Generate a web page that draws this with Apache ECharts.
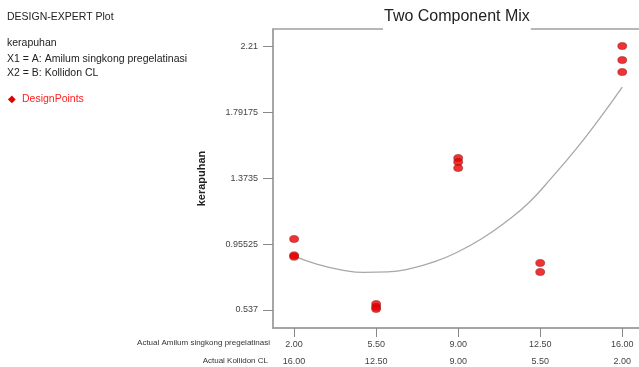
<!DOCTYPE html>
<html>
<head>
<meta charset="utf-8">
<script src="https://cdn.jsdelivr.net/npm/echarts@6/dist/echarts.min.js"></script>
<style>
  html, body { margin: 0; padding: 0; background: #fff; }
  #chart { width: 639px; height: 367px; }
</style>
</head>
<body>
<div id="chart"></div>
<script>
// 坐标刻度
const amilumTicks = [2, 5.5, 9, 12.5, 16]
const kollidonTicks = [16, 12.5, 9, 5.5, 2]
const yTicks = [0.537, 0.95525, 1.3735, 1.79175, 2.21]

// 设计点 (Amilum, kerapuhan)
const pointX = [2, 2, 2, 5.5, 5.5, 5.5, 9, 9, 9, 12.5, 12.5, 16, 16, 16]
const pointY = [0.987, 0.884, 0.874, 0.575, 0.556, 0.544, 1.500, 1.475, 1.437, 0.835, 0.778, 2.21, 2.121, 2.045]

// 拟合曲线
const curveX = [2.0, 3.0, 4.0, 5.0, 6.0, 7.0, 8.0, 9.0, 10.0, 11.0, 12.0, 13.0, 14.0, 15.0, 16.0]
const curveY = [0.879, 0.827, 0.792, 0.776, 0.779, 0.801, 0.843, 0.906, 0.989, 1.092, 1.215, 1.378, 1.552, 1.744, 1.95]

const font = 'Liberation Sans, Arial, sans-serif'

const chart = echarts.init(document.getElementById('chart'))
const option = {
    animation: false,
    title: {
        text: 'Two Component Mix',
        left: 383,
        top: 7,
        padding: [2, 1, 5, 1],
        backgroundColor: '#fff',
        textStyle: { fontFamily: font, fontSize: 16, fontWeight: 'normal', color: '#222' }
    },
    grid: {
        left: 273,
        right: -2,
        top: 29,
        bottom: 39,
        outerBoundsMode: 'none',
        show: true,
        borderColor: '#a0a0a0',
        borderWidth: 1.5
    },
    xAxis: {
        type: 'value',
        min: 1.1,
        max: 16.8,
        splitLine: { show: false },
        axisLine: { lineStyle: { color: '#a0a0a0', width: 1.5 } },
        axisTick: {
            customValues: amilumTicks,
            length: 9,
            lineStyle: { color: '#888' }
        },
        axisLabel: {
            customValues: amilumTicks,
            margin: 8,
            fontFamily: font,
            fontSize: 9,
            color: '#444',
            lineHeight: 17,
            formatter: function (v) {
                const i = amilumTicks.indexOf(v)
                return v.toFixed(2) + '\n' + kollidonTicks[i].toFixed(2)
            }
        }
    },
    yAxis: {
        type: 'value',
        min: 0.423,
        max: 2.318,
        name: 'kerapuhan',
        nameLocation: 'middle',
        nameGap: 66,
        nameTextStyle: { fontFamily: font, fontSize: 11, fontWeight: 'bold', color: '#222' },
        splitLine: { show: false },
        axisLine: { lineStyle: { color: '#a0a0a0', width: 1.5 } },
        axisTick: {
            customValues: yTicks,
            length: 10,
            lineStyle: { color: '#888' }
        },
        axisLabel: {
            customValues: yTicks,
            margin: 15,
            fontFamily: font,
            fontSize: 9,
            color: '#444',
            formatter: function (v) { return String(v) }
        }
    },
    graphic: [
        { type: 'text', left: 7, top: 12, style: { text: 'DESIGN-EXPERT Plot', font: '10.5px ' + font, fill: '#222' } },
        { type: 'text', left: 7, top: 38, style: { text: 'kerapuhan', font: '10.5px ' + font, fill: '#222' } },
        { type: 'text', left: 7, top: 54, style: { text: 'X1 = A: Amilum singkong pregelatinasi', font: '10.5px ' + font, fill: '#222' } },
        { type: 'text', left: 7, top: 68, style: { text: 'X2 = B: Kollidon CL', font: '10.5px ' + font, fill: '#222' } },
        { type: 'text', left: 8, top: 94, style: { text: '◆', font: '10px ' + font, fill: '#e00000' } },
        { type: 'text', left: 22, top: 94, style: { text: 'DesignPoints', font: '10.5px ' + font, fill: '#ff2020' } },
        { type: 'text', right: 369, top: 339, style: { text: 'Actual Amilum singkong pregelatinasi', font: '8px ' + font, fill: '#333' } },
        { type: 'text', right: 371, top: 357, style: { text: 'Actual Kollidon CL', font: '8px ' + font, fill: '#333' } }
    ],
    series: [
        {
            type: 'line',
            data: curveX.map((x, i) => [x, curveY[i]]),
            smooth: 0.5,
            showSymbol: false,
            lineStyle: { color: '#a8a8a8', width: 1.3 },
            z: 2
        },
        {
            type: 'scatter',
            data: pointX.map((x, i) => [x, pointY[i]]),
            symbol: 'circle',
            symbolSize: [9, 7],
            itemStyle: { color: '#e80000', borderColor: '#8a1010', borderWidth: 0.6 },
            z: 3
        }
    ]
}
chart.setOption(option)
</script>
</body>
</html>
